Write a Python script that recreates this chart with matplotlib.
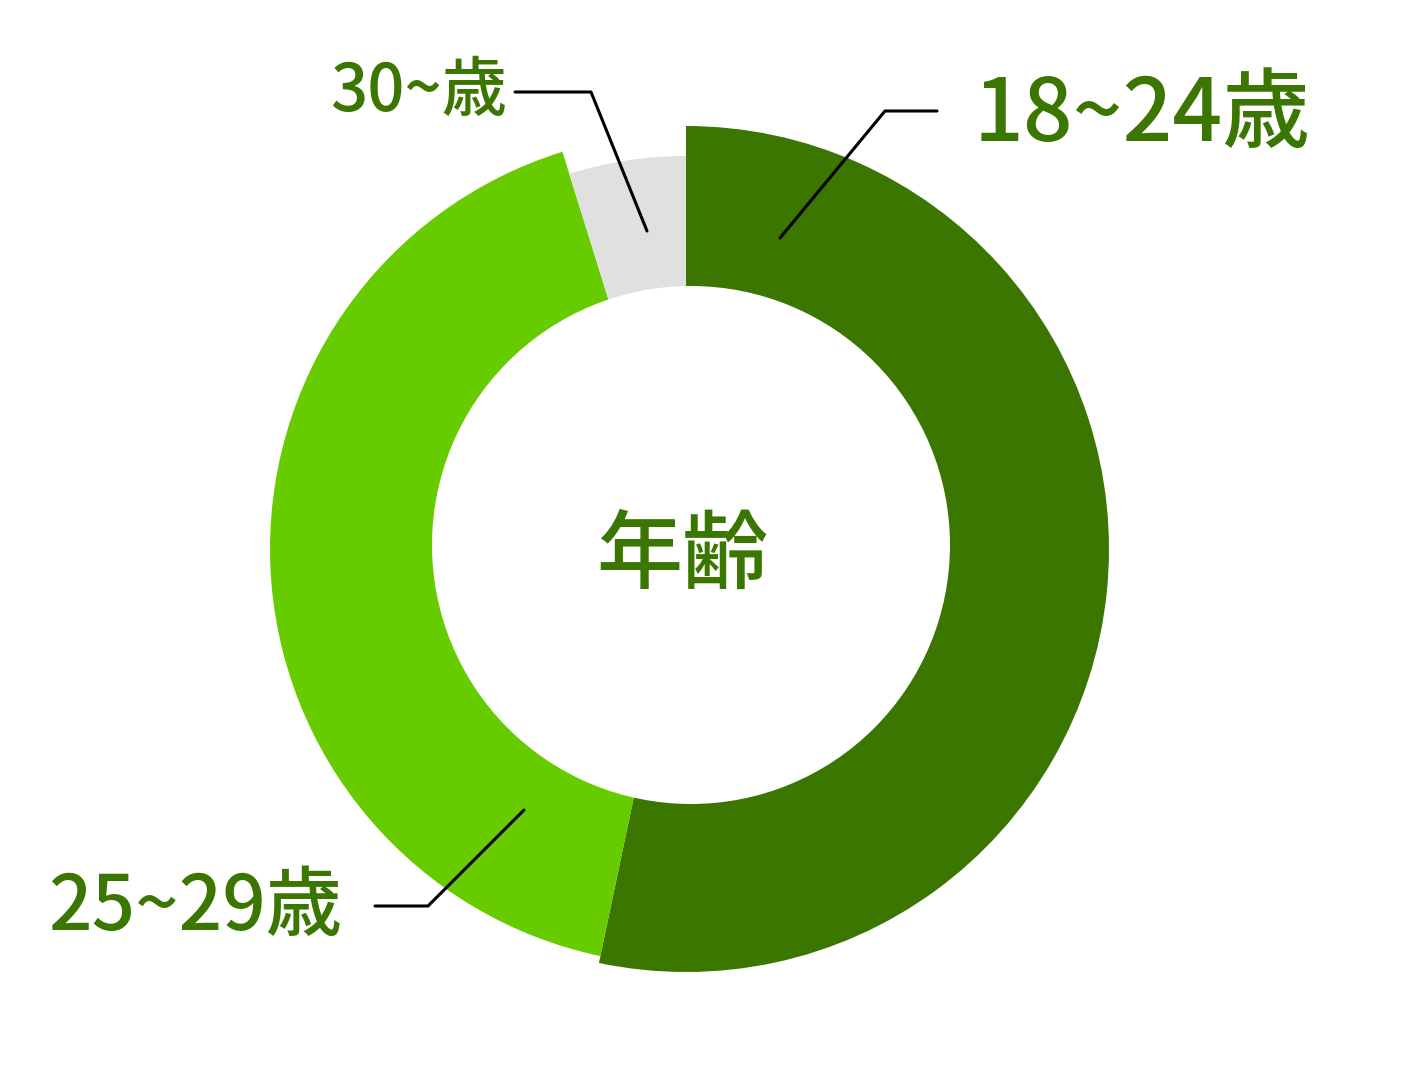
import matplotlib
matplotlib.use("Agg")
import matplotlib.pyplot as plt
from matplotlib.patches import Circle

plt.rcParams['font.family'] = ['Noto Sans CJK JP', 'DejaVu Sans']

# ----------- DATA ----------- #
labels = ['18~24歳', '25~29歳', '30~歳']
shares = [53.3, 41.9, 4.8]
colors = ['#3b7600', '#66cc00', '#e0e0de']
outer_r = [423, 416, 393]   # each ring piece sticks out by a different amount
text_green = '#3b7600'

W, H = 1401, 1071
fig = plt.figure(figsize=(W / 100, H / 100), dpi=100)
ax = fig.add_axes([0, 0, 1, 1])

cx, cy = 686, H - 549

wedges, _ = ax.pie(shares, colors=colors, startangle=90, counterclock=False,
                   center=(cx, cy), radius=max(outer_r), frame=True)
for w, r in zip(wedges, outer_r):
    w.set_radius(r)
    w.set_linewidth(0)

# white hole (sits a little off the ring's centre, as in the original)
ax.add_patch(Circle((691, H - 545), 259, color='white', lw=0, zorder=3))

ax.set_xlim(0, W)
ax.set_ylim(0, H)
ax.set_aspect('equal')
ax.axis('off')

# ----------- LEADER LINES ----------- #
def leader(pts):
    xs = [p[0] for p in pts]
    ys = [H - p[1] for p in pts]
    ax.plot(xs, ys, color='black', lw=2.2, solid_capstyle='round', zorder=4)

leader([(780, 238), (885, 111), (937, 111)])
leader([(647, 231), (591, 92), (515, 92)])
leader([(524, 810), (428, 906), (375, 906)])

# ----------- TEXT ----------- #
ax.text(1142, H - 116, labels[0], fontsize=63, color=text_green,
        ha='center', va='center', fontweight='medium', zorder=5)
ax.text(195, H - 908, labels[1], fontsize=55, color=text_green,
        ha='center', va='center', fontweight='medium', zorder=5)
ax.text(419, H - 92, labels[2], fontsize=47, color=text_green,
        ha='center', va='center', fontweight='medium', zorder=5)
ax.text(682, H - 557, '年齢', fontsize=62, color=text_green,
        ha='center', va='center', fontweight='medium', zorder=5)

fig.savefig('out.png', dpi=100)
